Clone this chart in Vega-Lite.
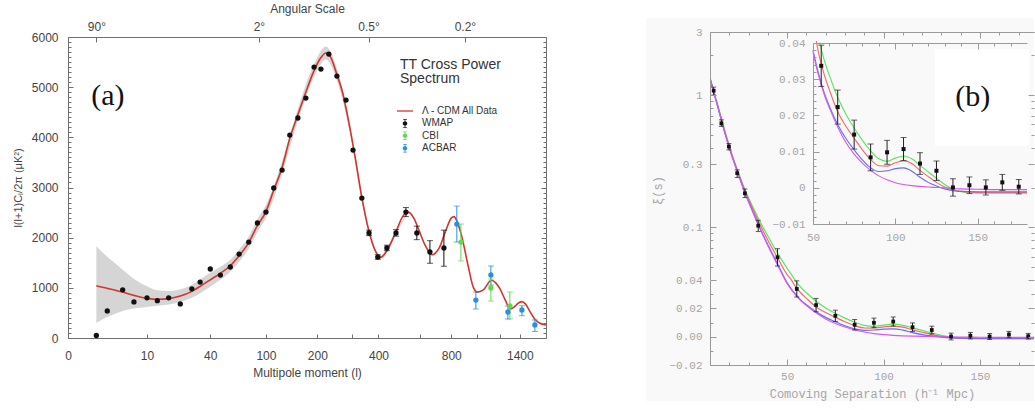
{
  "$schema": "https://vega.github.io/schema/vega-lite/v6.json",
  "autosize": {"type": "pad"},
  "padding": {"left": 12, "top": 2, "right": 0, "bottom": 4},
  "background": "white",
  "bounds": "flush",
  "spacing": 164,
  "resolve": {"scale": {"color": "independent", "shape": "independent"}, "legend": {"color": "independent", "shape": "independent"}},
  "config": {
    "view": {"stroke": null},
    "font": "Liberation Sans",
    "axis": {"grid": false, "titleFontWeight": "normal", "labelOverlap": false, "labelFlush": false}
  },
  "datasets": {
    "cl_curve": [
      {"l": 2, "v": 1040}, {"l": 3, "v": 990}, {"l": 4, "v": 950}, {"l": 5, "v": 915}, {"l": 7, "v": 850},
      {"l": 10, "v": 790}, {"l": 13, "v": 772}, {"l": 17, "v": 785}, {"l": 22, "v": 835}, {"l": 28, "v": 930},
      {"l": 34, "v": 1050}, {"l": 40, "v": 1160}, {"l": 48, "v": 1290}, {"l": 57, "v": 1440}, {"l": 66, "v": 1640},
      {"l": 77, "v": 1900}, {"l": 88, "v": 2240}, {"l": 100, "v": 2520}, {"l": 112, "v": 2950}, {"l": 126, "v": 3400},
      {"l": 140, "v": 3980}, {"l": 156, "v": 4450}, {"l": 173, "v": 4900}, {"l": 192, "v": 5330}, {"l": 210, "v": 5600},
      {"l": 222, "v": 5680}, {"l": 235, "v": 5600}, {"l": 253, "v": 5250}, {"l": 270, "v": 4900}, {"l": 290, "v": 4300},
      {"l": 310, "v": 3650}, {"l": 335, "v": 2800}, {"l": 362, "v": 2120}, {"l": 385, "v": 1760}, {"l": 410, "v": 1610},
      {"l": 436, "v": 1740}, {"l": 478, "v": 2120}, {"l": 510, "v": 2420}, {"l": 540, "v": 2510}, {"l": 570, "v": 2380},
      {"l": 600, "v": 2120}, {"l": 635, "v": 1830}, {"l": 675, "v": 1660}, {"l": 720, "v": 1800}, {"l": 760, "v": 2120},
      {"l": 800, "v": 2390}, {"l": 820, "v": 2420}, {"l": 845, "v": 2300}, {"l": 875, "v": 2040}, {"l": 925, "v": 1440},
      {"l": 965, "v": 1020}, {"l": 1000, "v": 915}, {"l": 1050, "v": 960}, {"l": 1120, "v": 1150}, {"l": 1160, "v": 1100},
      {"l": 1200, "v": 980}, {"l": 1250, "v": 760}, {"l": 1300, "v": 580}, {"l": 1340, "v": 615}, {"l": 1380, "v": 690},
      {"l": 1420, "v": 725}, {"l": 1460, "v": 680}, {"l": 1500, "v": 560}, {"l": 1565, "v": 380}, {"l": 1620, "v": 300},
      {"l": 1700, "v": 260}
    ],
    "cl_band": [
      {"l": 2, "lo": 300, "hi": 1830}, {"l": 3, "lo": 420, "hi": 1620}, {"l": 4, "lo": 490, "hi": 1480},
      {"l": 5, "lo": 540, "hi": 1360}, {"l": 7, "lo": 590, "hi": 1180}, {"l": 10, "lo": 620, "hi": 1030},
      {"l": 13, "lo": 645, "hi": 950}, {"l": 17, "lo": 670, "hi": 935}, {"l": 22, "lo": 720, "hi": 970},
      {"l": 28, "lo": 800, "hi": 1060}, {"l": 34, "lo": 910, "hi": 1190}, {"l": 40, "lo": 1020, "hi": 1300},
      {"l": 48, "lo": 1160, "hi": 1420}, {"l": 57, "lo": 1320, "hi": 1560}, {"l": 66, "lo": 1520, "hi": 1760},
      {"l": 77, "lo": 1780, "hi": 2020}, {"l": 88, "lo": 2110, "hi": 2370}, {"l": 100, "lo": 2390, "hi": 2650},
      {"l": 126, "lo": 3280, "hi": 3520}, {"l": 156, "lo": 4330, "hi": 4570}, {"l": 192, "lo": 5200, "hi": 5460},
      {"l": 222, "lo": 5550, "hi": 5810}, {"l": 253, "lo": 5130, "hi": 5370}, {"l": 290, "lo": 4200, "hi": 4400},
      {"l": 335, "lo": 2730, "hi": 2870}, {"l": 410, "lo": 1570, "hi": 1650}, {"l": 478, "lo": 2090, "hi": 2150},
      {"l": 540, "lo": 2495, "hi": 2525}
    ],
    "cl_points": [
      {"l": 2, "v": 50, "series": "WMAP"}, {"l": 3, "v": 540, "series": "WMAP"}, {"l": 5, "v": 960, "series": "WMAP"},
      {"l": 7, "v": 720, "series": "WMAP"}, {"l": 10, "v": 800, "series": "WMAP"}, {"l": 13, "v": 745, "series": "WMAP"},
      {"l": 17, "v": 800, "series": "WMAP"}, {"l": 22, "v": 680, "series": "WMAP"}, {"l": 28, "v": 980, "series": "WMAP"},
      {"l": 33, "v": 1115, "series": "WMAP"}, {"l": 40, "v": 1375, "series": "WMAP"}, {"l": 48, "v": 1255, "series": "WMAP"},
      {"l": 57, "v": 1415, "series": "WMAP"}, {"l": 66, "v": 1674, "series": "WMAP"}, {"l": 77, "v": 1913, "series": "WMAP"},
      {"l": 88, "v": 2292, "series": "WMAP"}, {"l": 100, "v": 2511, "series": "WMAP"}, {"l": 112, "v": 2990, "series": "WMAP"},
      {"l": 126, "v": 3348, "series": "WMAP"}, {"l": 140, "v": 4046, "series": "WMAP"}, {"l": 156, "v": 4385, "series": "WMAP"},
      {"l": 173, "v": 4783, "series": "WMAP"}, {"l": 192, "v": 5401, "series": "WMAP"}, {"l": 209, "v": 5361, "series": "WMAP"},
      {"l": 230, "v": 5660, "series": "WMAP"}, {"l": 253, "v": 5222, "series": "WMAP"}, {"l": 281, "v": 4743, "series": "WMAP"},
      {"l": 304, "v": 3747, "series": "WMAP"}, {"l": 335, "v": 2790, "series": "WMAP"},
      {"l": 362, "v": 2093, "lo": 2040, "hi": 2150, "series": "WMAP"},
      {"l": 397, "v": 1614, "lo": 1570, "hi": 1660, "series": "WMAP"},
      {"l": 436, "v": 1794, "lo": 1740, "hi": 1850, "series": "WMAP"},
      {"l": 478, "v": 2093, "lo": 2030, "hi": 2160, "series": "WMAP"},
      {"l": 527, "v": 2511, "lo": 2420, "hi": 2600, "series": "WMAP"},
      {"l": 585, "v": 2093, "lo": 1960, "hi": 2230, "series": "WMAP"},
      {"l": 661, "v": 1714, "lo": 1490, "hi": 1940, "series": "WMAP"},
      {"l": 750, "v": 1794, "lo": 1430, "hi": 2150, "series": "WMAP"},
      {"l": 840, "v": 2272, "lo": 1913, "hi": 2630, "series": "ACBAR"},
      {"l": 870, "v": 1913, "lo": 1535, "hi": 2272, "series": "CBI"},
      {"l": 987, "v": 757, "lo": 578, "hi": 917, "series": "ACBAR"},
      {"l": 1116, "v": 1256, "lo": 1056, "hi": 1435, "series": "ACBAR"},
      {"l": 1116, "v": 997, "lo": 737, "hi": 1176, "series": "CBI"},
      {"l": 1277, "v": 518, "lo": 379, "hi": 638, "series": "ACBAR"},
      {"l": 1297, "v": 638, "lo": 379, "hi": 917, "series": "CBI"},
      {"l": 1422, "v": 558, "lo": 444, "hi": 643, "series": "ACBAR"},
      {"l": 1567, "v": 260, "lo": 130, "hi": 360, "series": "ACBAR"}
    ],
    "xi_curves": [
      {"s": 10, "model": "Ωmh²=0.12", "xi": 1.36}, {"s": 12, "model": "Ωmh²=0.12", "xi": 1.06}, {"s": 14, "model": "Ωmh²=0.12", "xi": 0.84},
      {"s": 16, "model": "Ωmh²=0.12", "xi": 0.66}, {"s": 18, "model": "Ωmh²=0.12", "xi": 0.52}, {"s": 20, "model": "Ωmh²=0.12", "xi": 0.415},
      {"s": 22, "model": "Ωmh²=0.12", "xi": 0.335}, {"s": 25, "model": "Ωmh²=0.12", "xi": 0.255}, {"s": 28, "model": "Ωmh²=0.12", "xi": 0.195},
      {"s": 32, "model": "Ωmh²=0.12", "xi": 0.145}, {"s": 36, "model": "Ωmh²=0.12", "xi": 0.11}, {"s": 40, "model": "Ωmh²=0.12", "xi": 0.086},
      {"s": 45, "model": "Ωmh²=0.12", "xi": 0.064}, {"s": 50, "model": "Ωmh²=0.12", "xi": 0.049}, {"s": 52, "model": "Ωmh²=0.12", "xi": 0.0445},
      {"s": 54, "model": "Ωmh²=0.12", "xi": 0.0401}, {"s": 57, "model": "Ωmh²=0.12", "xi": 0.035}, {"s": 60, "model": "Ωmh²=0.12", "xi": 0.031},
      {"s": 65, "model": "Ωmh²=0.12", "xi": 0.025}, {"s": 70, "model": "Ωmh²=0.12", "xi": 0.0203}, {"s": 75, "model": "Ωmh²=0.12", "xi": 0.0165},
      {"s": 80, "model": "Ωmh²=0.12", "xi": 0.0131}, {"s": 85, "model": "Ωmh²=0.12", "xi": 0.0102}, {"s": 90, "model": "Ωmh²=0.12", "xi": 0.008},
      {"s": 95, "model": "Ωmh²=0.12", "xi": 0.0073}, {"s": 100, "model": "Ωmh²=0.12", "xi": 0.0082}, {"s": 105, "model": "Ωmh²=0.12", "xi": 0.0088},
      {"s": 110, "model": "Ωmh²=0.12", "xi": 0.008}, {"s": 115, "model": "Ωmh²=0.12", "xi": 0.0062}, {"s": 120, "model": "Ωmh²=0.12", "xi": 0.0044},
      {"s": 125, "model": "Ωmh²=0.12", "xi": 0.0026}, {"s": 130, "model": "Ωmh²=0.12", "xi": 0.0009}, {"s": 135, "model": "Ωmh²=0.12", "xi": -0.0004},
      {"s": 140, "model": "Ωmh²=0.12", "xi": -0.0011}, {"s": 150, "model": "Ωmh²=0.12", "xi": -0.0015}, {"s": 160, "model": "Ωmh²=0.12", "xi": -0.0015},
      {"s": 170, "model": "Ωmh²=0.12", "xi": -0.0015}, {"s": 180, "model": "Ωmh²=0.12", "xi": -0.0015},

      {"s": 10, "model": "Ωmh²=0.13", "xi": 1.35}, {"s": 12, "model": "Ωmh²=0.13", "xi": 1.05}, {"s": 14, "model": "Ωmh²=0.13", "xi": 0.83},
      {"s": 16, "model": "Ωmh²=0.13", "xi": 0.65}, {"s": 18, "model": "Ωmh²=0.13", "xi": 0.51}, {"s": 20, "model": "Ωmh²=0.13", "xi": 0.41},
      {"s": 22, "model": "Ωmh²=0.13", "xi": 0.33}, {"s": 25, "model": "Ωmh²=0.13", "xi": 0.25}, {"s": 28, "model": "Ωmh²=0.13", "xi": 0.19},
      {"s": 32, "model": "Ωmh²=0.13", "xi": 0.14}, {"s": 36, "model": "Ωmh²=0.13", "xi": 0.104}, {"s": 40, "model": "Ωmh²=0.13", "xi": 0.08},
      {"s": 45, "model": "Ωmh²=0.13", "xi": 0.059}, {"s": 50, "model": "Ωmh²=0.13", "xi": 0.044}, {"s": 52, "model": "Ωmh²=0.13", "xi": 0.0405},
      {"s": 54, "model": "Ωmh²=0.13", "xi": 0.036}, {"s": 57, "model": "Ωmh²=0.13", "xi": 0.031}, {"s": 60, "model": "Ωmh²=0.13", "xi": 0.027},
      {"s": 65, "model": "Ωmh²=0.13", "xi": 0.021}, {"s": 70, "model": "Ωmh²=0.13", "xi": 0.017}, {"s": 75, "model": "Ωmh²=0.13", "xi": 0.0137},
      {"s": 80, "model": "Ωmh²=0.13", "xi": 0.0105}, {"s": 85, "model": "Ωmh²=0.13", "xi": 0.0078}, {"s": 90, "model": "Ωmh²=0.13", "xi": 0.0061},
      {"s": 95, "model": "Ωmh²=0.13", "xi": 0.006}, {"s": 100, "model": "Ωmh²=0.13", "xi": 0.0069}, {"s": 105, "model": "Ωmh²=0.13", "xi": 0.0075},
      {"s": 110, "model": "Ωmh²=0.13", "xi": 0.0067}, {"s": 115, "model": "Ωmh²=0.13", "xi": 0.0048}, {"s": 120, "model": "Ωmh²=0.13", "xi": 0.0031},
      {"s": 125, "model": "Ωmh²=0.13", "xi": 0.0015}, {"s": 130, "model": "Ωmh²=0.13", "xi": 0.0002}, {"s": 135, "model": "Ωmh²=0.13", "xi": -0.0006},
      {"s": 140, "model": "Ωmh²=0.13", "xi": -0.001}, {"s": 150, "model": "Ωmh²=0.13", "xi": -0.0013}, {"s": 160, "model": "Ωmh²=0.13", "xi": -0.0013},
      {"s": 170, "model": "Ωmh²=0.13", "xi": -0.0013}, {"s": 180, "model": "Ωmh²=0.13", "xi": -0.0013},

      {"s": 10, "model": "Ωmh²=0.14", "xi": 1.34}, {"s": 12, "model": "Ωmh²=0.14", "xi": 1.04}, {"s": 14, "model": "Ωmh²=0.14", "xi": 0.82},
      {"s": 16, "model": "Ωmh²=0.14", "xi": 0.64}, {"s": 18, "model": "Ωmh²=0.14", "xi": 0.5}, {"s": 20, "model": "Ωmh²=0.14", "xi": 0.4},
      {"s": 22, "model": "Ωmh²=0.14", "xi": 0.325}, {"s": 25, "model": "Ωmh²=0.14", "xi": 0.245}, {"s": 28, "model": "Ωmh²=0.14", "xi": 0.185},
      {"s": 32, "model": "Ωmh²=0.14", "xi": 0.134}, {"s": 36, "model": "Ωmh²=0.14", "xi": 0.098}, {"s": 40, "model": "Ωmh²=0.14", "xi": 0.074},
      {"s": 45, "model": "Ωmh²=0.14", "xi": 0.053}, {"s": 50, "model": "Ωmh²=0.14", "xi": 0.038}, {"s": 52, "model": "Ωmh²=0.14", "xi": 0.034},
      {"s": 54, "model": "Ωmh²=0.14", "xi": 0.0305}, {"s": 57, "model": "Ωmh²=0.14", "xi": 0.026}, {"s": 60, "model": "Ωmh²=0.14", "xi": 0.0225},
      {"s": 65, "model": "Ωmh²=0.14", "xi": 0.0175}, {"s": 70, "model": "Ωmh²=0.14", "xi": 0.0136}, {"s": 75, "model": "Ωmh²=0.14", "xi": 0.0105},
      {"s": 80, "model": "Ωmh²=0.14", "xi": 0.0077}, {"s": 85, "model": "Ωmh²=0.14", "xi": 0.0055}, {"s": 90, "model": "Ωmh²=0.14", "xi": 0.0045},
      {"s": 95, "model": "Ωmh²=0.14", "xi": 0.0047}, {"s": 100, "model": "Ωmh²=0.14", "xi": 0.0053}, {"s": 105, "model": "Ωmh²=0.14", "xi": 0.0055},
      {"s": 110, "model": "Ωmh²=0.14", "xi": 0.0046}, {"s": 115, "model": "Ωmh²=0.14", "xi": 0.0029}, {"s": 120, "model": "Ωmh²=0.14", "xi": 0.0015},
      {"s": 125, "model": "Ωmh²=0.14", "xi": 0.0005}, {"s": 130, "model": "Ωmh²=0.14", "xi": -0.0003}, {"s": 135, "model": "Ωmh²=0.14", "xi": -0.0008},
      {"s": 140, "model": "Ωmh²=0.14", "xi": -0.001}, {"s": 150, "model": "Ωmh²=0.14", "xi": -0.0011}, {"s": 160, "model": "Ωmh²=0.14", "xi": -0.0011},
      {"s": 170, "model": "Ωmh²=0.14", "xi": -0.0011}, {"s": 180, "model": "Ωmh²=0.14", "xi": -0.0011},

      {"s": 10, "model": "Ωb=0", "xi": 1.34}, {"s": 12, "model": "Ωb=0", "xi": 1.04}, {"s": 14, "model": "Ωb=0", "xi": 0.82},
      {"s": 16, "model": "Ωb=0", "xi": 0.64}, {"s": 18, "model": "Ωb=0", "xi": 0.5}, {"s": 20, "model": "Ωb=0", "xi": 0.4},
      {"s": 22, "model": "Ωb=0", "xi": 0.325}, {"s": 25, "model": "Ωb=0", "xi": 0.245}, {"s": 28, "model": "Ωb=0", "xi": 0.184},
      {"s": 32, "model": "Ωb=0", "xi": 0.133}, {"s": 36, "model": "Ωb=0", "xi": 0.097}, {"s": 40, "model": "Ωb=0", "xi": 0.073},
      {"s": 45, "model": "Ωb=0", "xi": 0.052}, {"s": 50, "model": "Ωb=0", "xi": 0.0375}, {"s": 52, "model": "Ωb=0", "xi": 0.0335},
      {"s": 54, "model": "Ωb=0", "xi": 0.03}, {"s": 57, "model": "Ωb=0", "xi": 0.0255}, {"s": 60, "model": "Ωb=0", "xi": 0.022},
      {"s": 65, "model": "Ωb=0", "xi": 0.0168}, {"s": 70, "model": "Ωb=0", "xi": 0.0125}, {"s": 75, "model": "Ωb=0", "xi": 0.0093},
      {"s": 80, "model": "Ωb=0", "xi": 0.0068}, {"s": 85, "model": "Ωb=0", "xi": 0.0048}, {"s": 90, "model": "Ωb=0", "xi": 0.0033},
      {"s": 95, "model": "Ωb=0", "xi": 0.0022}, {"s": 100, "model": "Ωb=0", "xi": 0.0014}, {"s": 105, "model": "Ωb=0", "xi": 0.0009},
      {"s": 110, "model": "Ωb=0", "xi": 0.0006}, {"s": 115, "model": "Ωb=0", "xi": 0.0004}, {"s": 120, "model": "Ωb=0", "xi": 0.0002},
      {"s": 125, "model": "Ωb=0", "xi": 0.0001}, {"s": 130, "model": "Ωb=0", "xi": 0}, {"s": 135, "model": "Ωb=0", "xi": -0.0002},
      {"s": 140, "model": "Ωb=0", "xi": -0.0003}, {"s": 150, "model": "Ωb=0", "xi": -0.0004}, {"s": 160, "model": "Ωb=0", "xi": -0.0005},
      {"s": 170, "model": "Ωb=0", "xi": -0.0005}, {"s": 180, "model": "Ωb=0", "xi": -0.0005}
    ],
    "xi_points": [
      {"s": 11.9, "xi": 1.08, "lo": 1.0, "hi": 1.15}, {"s": 15.9, "xi": 0.612, "lo": 0.58, "hi": 0.65},
      {"s": 19.8, "xi": 0.408, "lo": 0.385, "hi": 0.43}, {"s": 24.1, "xi": 0.257, "lo": 0.238, "hi": 0.272},
      {"s": 28.1, "xi": 0.181, "lo": 0.168, "hi": 0.195}, {"s": 35, "xi": 0.103, "lo": 0.093, "hi": 0.113},
      {"s": 45, "xi": 0.0594, "lo": 0.051, "hi": 0.069}, {"s": 55, "xi": 0.0337, "lo": 0.028, "hi": 0.0394},
      {"s": 65, "xi": 0.0223, "lo": 0.0176, "hi": 0.027}, {"s": 75, "xi": 0.0147, "lo": 0.0107, "hi": 0.0187},
      {"s": 85, "xi": 0.0084, "lo": 0.0047, "hi": 0.0121}, {"s": 95, "xi": 0.0098, "lo": 0.0065, "hi": 0.0131},
      {"s": 105, "xi": 0.0107, "lo": 0.0075, "hi": 0.0139}, {"s": 115, "xi": 0.0067, "lo": 0.0037, "hi": 0.0097},
      {"s": 125, "xi": 0.0047, "lo": 0.002, "hi": 0.0074}, {"s": 135, "xi": 0.0001, "lo": -0.0023, "hi": 0.0025},
      {"s": 145, "xi": 0.0007, "lo": -0.0016, "hi": 0.003}, {"s": 155, "xi": 0.0001, "lo": -0.002, "hi": 0.0022},
      {"s": 165, "xi": 0.0015, "lo": -0.0007, "hi": 0.0037}, {"s": 175, "xi": 0.0003, "lo": -0.0017, "hi": 0.0023}
    ]
  },
  "hconcat": [
    {
      "width": 478,
      "height": 306,
      "resolve": {"axis": {"x": "independent", "y": "independent"}},
      "layer": [
        {
          "data": {"values": [{"series": "Λ - CDM All Data"}, {"series": "WMAP"}, {"series": "CBI"}, {"series": "ACBAR"}]},
          "mark": {"type": "point", "filled": true, "opacity": 1, "clip": true},
          "encoding": {
            "x": {"datum": 5000, "type": "quantitative",
              "scale": {"type": "pow", "exponent": 0.25, "domain": [0.545, 1700], "nice": false, "zero": false}, "axis": null},
            "y": {"datum": 3000, "type": "quantitative", "scale": {"domain": [0, 6000], "range": [306, 5], "nice": false, "zero": false}, "axis": null},
            "color": {"field": "series", "type": "nominal",
              "scale": {"domain": ["Λ - CDM All Data", "WMAP", "CBI", "ACBAR"], "range": ["#d2352c", "#111111", "#5fd94f", "#2b8fdd"]},
              "legend": {"orient": "none", "legendX": 332, "legendY": 26, "title": ["TT Cross Power", "Spectrum"],
                "titleFont": "Liberation Sans", "titleFontSize": 14, "titleFontWeight": "normal", "titleColor": "#333", "titleLineHeight": 14,
                "titlePadding": 20, "labelFont": "Liberation Sans", "labelFontSize": 10, "labelColor": "#333",
                "symbolSize": 100, "rowPadding": 2.4, "labelOffset": 12, "padding": 0, "symbolStrokeWidth": 0}},
            "shape": {"field": "series", "type": "nominal",
              "scale": {"domain": ["Λ - CDM All Data", "WMAP", "CBI", "ACBAR"],
                "range": ["M-1.6,-0.13H1.6V0.13H-1.6Z",
                  "M-0.08,-0.85H0.08V0.85H-0.08Z M-0.35,-0.85H0.35V-0.7H-0.35Z M-0.35,0.7H0.35V0.85H-0.35Z M-0.45,0A0.45,0.45 0 1,1 0.45,0A0.45,0.45 0 1,1 -0.45,0Z",
                  "M-0.08,-0.85H0.08V0.85H-0.08Z M-0.35,-0.85H0.35V-0.7H-0.35Z M-0.35,0.7H0.35V0.85H-0.35Z M-0.45,0A0.45,0.45 0 1,1 0.45,0A0.45,0.45 0 1,1 -0.45,0Z",
                  "M-0.08,-0.85H0.08V0.85H-0.08Z M-0.35,-0.85H0.35V-0.7H-0.35Z M-0.35,0.7H0.35V0.85H-0.35Z M-0.45,0A0.45,0.45 0 1,1 0.45,0A0.45,0.45 0 1,1 -0.45,0Z"]},
              "legend": {"orient": "none", "legendX": 332, "legendY": 26, "title": ["TT Cross Power", "Spectrum"]}}
          }
        },
        {
          "data": {"name": "cl_band"},
          "mark": {"type": "area", "color": "#d5d5d5", "interpolate": "monotone"},
          "encoding": {
            "x": {"field": "l", "type": "quantitative",
              "scale": {"type": "pow", "exponent": 0.25, "domain": [0.545, 1700], "nice": false, "zero": false},
              "axis": {"orient": "bottom", "values": [0.545, 10, 40, 100, 200, 300, 400, 600, 800, 1000, 1200, 1400],
                "labelExpr": "datum.value < 1 ? '0' : (datum.value == 300 || datum.value == 600 || datum.value == 1000 || datum.value == 1200) ? '' : format(datum.value, 'd')",
                "tickSize": -4, "labelPadding": 16, "labelFont": "Liberation Sans", "labelFontSize": 12, "labelColor": "#444",
                "domainColor": "#707070", "tickColor": "#707070",
                "title": "Multipole moment (l)", "titleFont": "Liberation Sans", "titleFontSize": 12, "titleColor": "#444", "titlePadding": 6}},
            "y": {"field": "lo", "type": "quantitative",
              "scale": {"domain": [0, 6000], "range": [306, 5], "nice": false, "zero": false},
              "axis": {"orient": "left",
                "values": [0,100,200,300,400,500,600,700,800,900,1000,1100,1200,1300,1400,1500,1600,1700,1800,1900,2000,2100,2200,2300,2400,2500,2600,2700,2800,2900,3000,3100,3200,3300,3400,3500,3600,3700,3800,3900,4000,4100,4200,4300,4400,4500,4600,4700,4800,4900,5000,5100,5200,5300,5400,5500,5600,5700,5800,5900,6000],
                "labelExpr": "datum.value % 1000 == 0 ? format(datum.value, 'd') : ''",
                "tickSize": {"condition": {"test": "datum.value % 1000 == 0", "value": -5}, "value": -3},
                "labelPadding": 15, "labelFont": "Liberation Sans", "labelFontSize": 12, "labelColor": "#444",
                "domainColor": "#707070", "tickColor": "#707070",
                "title": "l(l+1)Cₗ/2π (μK²)", "titleFont": "Liberation Sans", "titleFontSize": 11, "titleColor": "#444", "titlePadding": 8}},
            "y2": {"field": "hi"}
          }
        },
        {
          "data": {"name": "cl_curve"},
          "mark": {"type": "line", "color": "#d2352c", "strokeWidth": 1.6, "interpolate": "monotone"},
          "encoding": {
            "x": {"field": "l", "type": "quantitative",
              "scale": {"type": "pow", "exponent": 0.25, "domain": [0.545, 1700], "nice": false, "zero": false},
              "axis": {"orient": "top", "offset": -5, "values": [2, 90, 360, 900],
                "labelExpr": "datum.value == 2 ? '90°' : datum.value == 90 ? '2°' : datum.value == 360 ? '0.5°' : '0.2°'",
                "tickSize": -5, "labelPadding": 9, "labelFont": "Liberation Sans", "labelFontSize": 12, "labelColor": "#444",
                "domainColor": "#707070", "tickColor": "#707070",
                "title": "Angular Scale", "titleFont": "Liberation Sans", "titleFontSize": 12, "titleColor": "#444", "titlePadding": 5}},
            "y": {"field": "v", "type": "quantitative",
              "scale": {"domain": [0, 6000], "range": [306, 5], "nice": false, "zero": false},
              "axis": {"orient": "right",
                "values": [0,100,200,300,400,500,600,700,800,900,1000,1100,1200,1300,1400,1500,1600,1700,1800,1900,2000,2100,2200,2300,2400,2500,2600,2700,2800,2900,3000,3100,3200,3300,3400,3500,3600,3700,3800,3900,4000,4100,4200,4300,4400,4500,4600,4700,4800,4900,5000,5100,5200,5300,5400,5500,5600,5700,5800,5900,6000],
                "labels": false,
                "tickSize": {"condition": {"test": "datum.value % 1000 == 0", "value": -5}, "value": -3},
                "domainColor": "#707070", "tickColor": "#707070", "title": null}}
          }
        },
        {
          "data": {"name": "cl_points"},
          "transform": [{"filter": "isValid(datum.lo)"}],
          "mark": {"type": "errorbar", "ticks": {"size": 6}, "thickness": 1},
          "encoding": {
            "x": {"field": "l", "type": "quantitative",
              "scale": {"type": "pow", "exponent": 0.25, "domain": [0.545, 1700], "nice": false, "zero": false}, "axis": null},
            "y": {"field": "lo", "type": "quantitative", "scale": {"domain": [0, 6000], "range": [306, 5], "nice": false, "zero": false}, "axis": null, "title": null},
            "y2": {"field": "hi"},
            "color": {"field": "series", "type": "nominal",
              "scale": {"domain": ["Λ - CDM All Data", "WMAP", "CBI", "ACBAR"], "range": ["#d2352c", "#111111", "#5fd94f", "#2b8fdd"]}}
          }
        },
        {
          "data": {"name": "cl_points"},
          "mark": {"type": "circle", "size": 28, "opacity": 1},
          "encoding": {
            "x": {"field": "l", "type": "quantitative",
              "scale": {"type": "pow", "exponent": 0.25, "domain": [0.545, 1700], "nice": false, "zero": false}, "axis": null},
            "y": {"field": "v", "type": "quantitative", "scale": {"domain": [0, 6000], "range": [306, 5], "nice": false, "zero": false}, "axis": null},
            "color": {"field": "series", "type": "nominal",
              "scale": {"domain": ["Λ - CDM All Data", "WMAP", "CBI", "ACBAR"], "range": ["#d2352c", "#111111", "#5fd94f", "#2b8fdd"]}}
          }
        },
        {
          "data": {"values": [{"label": "(a)"}]},
          "mark": {"type": "text", "font": "Liberation Serif", "fontSize": 30, "color": "#111", "align": "center", "baseline": "middle"},
          "encoding": {
            "text": {"field": "label"},
            "x": {"datum": 3.07, "type": "quantitative",
              "scale": {"type": "pow", "exponent": 0.25, "domain": [0.545, 1700], "nice": false, "zero": false}, "axis": null},
            "y": {"datum": 4823, "type": "quantitative", "scale": {"domain": [0, 6000], "range": [306, 5], "nice": false, "zero": false}, "axis": null}
          }
        }
      ]
    },
    {
      "vconcat": [
        {
          "width": 324,
          "height": 248,
          "resolve": {"scale": {"x": "independent", "y": "independent"}, "axis": {"x": "independent", "y": "independent"}},
          "layer": [
            {
              "resolve": {"axis": {"x": "independent", "y": "independent"}},
              "layer": [
                {
                  "data": {"values": [{"bg": "panel"}]},
                  "mark": {"type": "rect", "color": "#f9f9f9", "opacity": 1},
                  "encoding": {
                    "x": {"datum": -23.2, "type": "quantitative", "scale": {"domain": [10, 178], "nice": false, "zero": false}, "axis": null},
                    "x2": {"datum": 178},
                    "y": {"datum": 3.83, "type": "quantitative", "scale": {"type": "log", "domain": [0.04, 3], "nice": false}, "axis": null},
                    "y2": {"datum": 0.04}
                  }
                },
                {
                  "data": {"name": "xi_curves"},
                  "transform": [{"filter": "datum.xi > 0.03"}],
                  "mark": {"type": "line", "strokeWidth": 1.2, "interpolate": "monotone", "clip": true},
                  "encoding": {
                    "x": {"field": "s", "type": "quantitative", "scale": {"domain": [10, 178], "nice": false, "zero": false},
                      "axis": {"orient": "top", "zindex": 1, "values": [10,20,30,40,50,60,70,80,90,100,110,120,130,140,150,160,170], "labels": false,
                        "tickSize": {"condition": {"test": "datum.value % 50 == 0", "value": -6}, "value": -3},
                        "domainColor": "#9a9a9a", "tickColor": "#9a9a9a", "title": null}},
                    "y": {"field": "xi", "type": "quantitative", "scale": {"type": "log", "domain": [0.04, 3], "nice": false},
                      "axis": {"orient": "left", "zindex": 1, "values": [3, 2, 1, 0.9, 0.8, 0.7, 0.6, 0.5, 0.4, 0.3, 0.2, 0.1, 0.09, 0.08, 0.07, 0.06, 0.05],
                        "labelExpr": "datum.value == 3 ? '3' : datum.value == 1 ? '1' : datum.value == 0.3 ? '0.3' : datum.value == 0.1 ? '0.1' : ''",
                        "tickSize": {"condition": {"test": "datum.value == 3 || datum.value == 1 || datum.value == 0.3 || datum.value == 0.1", "value": -6}, "value": -3},
                        "labelPadding": 14, "labelFont": "Liberation Mono", "labelFontSize": 11, "labelColor": "#a6a6a6",
                        "domainColor": "#9a9a9a", "tickColor": "#9a9a9a",
                        "title": "ξ(s)", "titleFont": "Liberation Mono", "titleFontSize": 12, "titleColor": "#a6a6a6",
                        "titleX": -53, "titleY": 158, "titleAngle": 270, "titleAlign": "center", "titleBaseline": "middle"}},
                    "color": {"field": "model", "type": "nominal",
                      "scale": {"domain": ["Ωmh²=0.12", "Ωmh²=0.13", "Ωmh²=0.14", "Ωb=0"], "range": ["#5ee35e", "#f06a6a", "#6a6af5", "#d45ae8"]},
                      "legend": null}
                  }
                },
                {
                  "data": {"name": "xi_points"},
                  "transform": [{"filter": "datum.s < 50"}],
                  "mark": {"type": "errorbar", "ticks": {"size": 5}, "thickness": 1, "color": "#222", "clip": true},
                  "encoding": {
                    "x": {"field": "s", "type": "quantitative", "scale": {"domain": [10, 178], "nice": false, "zero": false}, "axis": null},
                    "y": {"field": "lo", "type": "quantitative", "scale": {"type": "log", "domain": [0.04, 3], "nice": false}, "axis": null, "title": null},
                    "y2": {"field": "hi"}
                  }
                },
                {
                  "data": {"name": "xi_points"},
                  "transform": [{"filter": "datum.s < 50"}],
                  "mark": {"type": "square", "size": 14, "opacity": 1, "color": "#111", "clip": true},
                  "encoding": {
                    "x": {"field": "s", "type": "quantitative", "scale": {"domain": [10, 178], "nice": false, "zero": false}, "axis": null},
                    "y": {"field": "xi", "type": "quantitative", "scale": {"type": "log", "domain": [0.04, 3], "nice": false},
                      "axis": {"orient": "right", "zindex": 1, "values": [3, 2, 1, 0.9, 0.8, 0.7, 0.6, 0.5, 0.4, 0.3, 0.2, 0.1, 0.09, 0.08, 0.07, 0.06, 0.05],
                        "labels": false, "domain": false,
                        "tickSize": {"condition": {"test": "datum.value == 3 || datum.value == 1 || datum.value == 0.3 || datum.value == 0.1", "value": -6}, "value": -3},
                        "tickColor": "#9a9a9a", "title": null}}
                  }
                }
              ]
            },
            {
              "resolve": {"axis": {"x": "independent", "y": "independent"}},
              "layer": [
                {
                  "data": {"name": "xi_curves"},
                  "transform": [{"filter": "datum.s >= 50 && datum.xi <= 0.041"}],
                  "mark": {"type": "line", "strokeWidth": 1.1, "interpolate": "monotone"},
                  "encoding": {
                    "x": {"field": "s", "type": "quantitative", "scale": {"domain": [50, 180], "range": [103, 317], "nice": false, "zero": false},
                      "axis": {"orient": "bottom", "zindex": 1, "offset": -56, "values": [50,60,70,80,90,100,110,120,130,140,150,160,170],
                        "labelExpr": "datum.value % 50 == 0 ? format(datum.value, 'd') : ''",
                        "tickSize": {"condition": {"test": "datum.value % 50 == 0", "value": -6}, "value": -3},
                        "labelPadding": 13, "labelFont": "Liberation Mono", "labelFontSize": 11, "labelColor": "#a6a6a6",
                        "domainColor": "#9a9a9a", "tickColor": "#9a9a9a", "title": null}},
                    "y": {"field": "xi", "type": "quantitative", "scale": {"domain": [-0.01, 0.04], "range": [192, 11], "nice": false, "zero": false},
                      "axis": {"orient": "left", "zindex": 1, "offset": -103,
                        "values": [-0.01,-0.008,-0.006,-0.004,-0.002,0,0.002,0.004,0.006,0.008,0.01,0.012,0.014,0.016,0.018,0.02,0.022,0.024,0.026,0.028,0.03,0.032,0.034,0.036,0.038,0.04],
                        "labelExpr": "abs(datum.value * 100 - round(datum.value * 100)) < 0.001 ? (abs(datum.value) < 0.000001 ? '0' : format(datum.value, '.2f')) : ''",
                        "tickSize": {"condition": {"test": "abs(datum.value * 100 - round(datum.value * 100)) < 0.001", "value": -6}, "value": -3},
                        "labelPadding": 14, "labelFont": "Liberation Mono", "labelFontSize": 11, "labelColor": "#a6a6a6",
                        "domainColor": "#9a9a9a", "tickColor": "#9a9a9a", "title": null}},
                    "color": {"field": "model", "type": "nominal",
                      "scale": {"domain": ["Ωmh²=0.12", "Ωmh²=0.13", "Ωmh²=0.14", "Ωb=0"], "range": ["#5ee35e", "#f06a6a", "#6a6af5", "#d45ae8"]},
                      "legend": null}
                  }
                },
                {
                  "data": {"name": "xi_points"},
                  "transform": [{"filter": "datum.s >= 50"}],
                  "mark": {"type": "errorbar", "ticks": {"size": 6}, "thickness": 1, "color": "#222"},
                  "encoding": {
                    "x": {"field": "s", "type": "quantitative", "scale": {"domain": [50, 180], "range": [103, 317], "nice": false, "zero": false}, "axis": null},
                    "y": {"field": "lo", "type": "quantitative", "scale": {"domain": [-0.01, 0.04], "range": [192, 11], "nice": false, "zero": false}, "axis": null, "title": null},
                    "y2": {"field": "hi"}
                  }
                },
                {
                  "data": {"name": "xi_points"},
                  "transform": [{"filter": "datum.s >= 50"}],
                  "mark": {"type": "square", "size": 16, "opacity": 1, "color": "#111"},
                  "encoding": {
                    "x": {"field": "s", "type": "quantitative", "scale": {"domain": [50, 180], "range": [103, 317], "nice": false, "zero": false},
                      "axis": {"orient": "top", "zindex": 1, "offset": -11, "values": [50,60,70,80,90,100,110,120,130,140,150,160,170], "labels": false,
                        "tickSize": {"condition": {"test": "datum.value % 50 == 0", "value": -6}, "value": -3},
                        "domainColor": "#9a9a9a", "tickColor": "#9a9a9a", "title": null}},
                    "y": {"field": "xi", "type": "quantitative", "scale": {"domain": [-0.01, 0.04], "range": [192, 11], "nice": false, "zero": false},
                      "axis": {"orient": "right", "zindex": 0, "offset": -7,
                        "values": [-0.01,-0.008,-0.006,-0.004,-0.002,0,0.002,0.004,0.006,0.008,0.01,0.012,0.014,0.016,0.018,0.02,0.022,0.024,0.026,0.028,0.03,0.032,0.034,0.036,0.038,0.04],
                        "labels": false,
                        "tickSize": {"condition": {"test": "abs(datum.value * 100 - round(datum.value * 100)) < 0.001", "value": -6}, "value": -3},
                        "domainColor": "#9a9a9a", "tickColor": "#9a9a9a", "title": null}}
                  }
                },
                {
                  "data": {"values": [{"x1": 124, "x2": 181.5, "y1": 0.0383, "y2": 0.0115}]},
                  "mark": {"type": "rect", "color": "white", "opacity": 1},
                  "encoding": {
                    "x": {"field": "x1", "type": "quantitative", "scale": {"domain": [50, 180], "range": [103, 317], "nice": false, "zero": false}, "axis": null},
                    "x2": {"field": "x2"},
                    "y": {"field": "y1", "type": "quantitative", "scale": {"domain": [-0.01, 0.04], "range": [192, 11], "nice": false, "zero": false}, "axis": null},
                    "y2": {"field": "y2"}
                  }
                },
                {
                  "data": {"values": [{"label": "(b)", "x": 147, "y": 0.0251}]},
                  "mark": {"type": "text", "font": "Liberation Serif", "fontSize": 30, "color": "#111", "align": "center", "baseline": "middle"},
                  "encoding": {
                    "text": {"field": "label"},
                    "x": {"field": "x", "type": "quantitative", "scale": {"domain": [50, 180], "range": [103, 317], "nice": false, "zero": false}, "axis": null},
                    "y": {"field": "y", "type": "quantitative", "scale": {"domain": [-0.01, 0.04], "range": [192, 11], "nice": false, "zero": false}, "axis": null}
                  }
                }
              ]
            }
          ]
        },
        {
          "width": 324,
          "height": 85,
          "resolve": {"axis": {"x": "independent", "y": "independent"}},
          "layer": [
            {
              "data": {"values": [{"bg": "panel"}]},
              "mark": {"type": "rect", "color": "#f9f9f9", "opacity": 1},
              "encoding": {
                "x": {"datum": -23.2, "type": "quantitative", "scale": {"domain": [10, 178], "nice": false, "zero": false}, "axis": null},
                "x2": {"datum": 178},
                "y": {"datum": 0.04, "type": "quantitative", "scale": {"domain": [-0.02, 0.04], "nice": false, "zero": false}, "axis": null},
                "y2": {"datum": -0.0454}
              }
            },
            {
              "data": {"name": "xi_curves"},
              "transform": [{"filter": "datum.s >= 36"}],
              "mark": {"type": "line", "strokeWidth": 1.2, "interpolate": "monotone", "clip": true},
              "encoding": {
                "x": {"field": "s", "type": "quantitative", "scale": {"domain": [10, 178], "nice": false, "zero": false},
                  "axis": {"orient": "bottom", "zindex": 1, "values": [10,20,30,40,50,60,70,80,90,100,110,120,130,140,150,160,170],
                    "labelExpr": "datum.value % 50 == 0 ? format(datum.value, 'd') : ''",
                    "tickSize": {"condition": {"test": "datum.value % 50 == 0", "value": -6}, "value": -3},
                    "labelPadding": 11, "labelFont": "Liberation Mono", "labelFontSize": 11, "labelColor": "#a6a6a6",
                    "domainColor": "#9a9a9a", "tickColor": "#9a9a9a",
                    "title": "Comoving Separation (h⁻¹ Mpc)", "titleFont": "Liberation Mono", "titleFontSize": 12, "titleColor": "#a6a6a6", "titlePadding": 4}},
                "y": {"field": "xi", "type": "quantitative", "scale": {"domain": [-0.02, 0.04], "nice": false, "zero": false},
                  "axis": {"orient": "left", "zindex": 1, "values": [-0.02, -0.01, 0, 0.01, 0.02, 0.03, 0.04],
                    "labelExpr": "abs(datum.value * 50 - round(datum.value * 50)) < 0.001 ? format(datum.value, '.2f') : ''",
                    "tickSize": {"condition": {"test": "abs(datum.value * 50 - round(datum.value * 50)) < 0.001", "value": -6}, "value": -3},
                    "labelPadding": 14, "labelFont": "Liberation Mono", "labelFontSize": 11, "labelColor": "#a6a6a6",
                    "domainColor": "#9a9a9a", "tickColor": "#9a9a9a", "title": null}},
                "color": {"field": "model", "type": "nominal",
                  "scale": {"domain": ["Ωmh²=0.12", "Ωmh²=0.13", "Ωmh²=0.14", "Ωb=0"], "range": ["#5ee35e", "#f06a6a", "#6a6af5", "#d45ae8"]},
                  "legend": null}
              }
            },
            {
              "data": {"name": "xi_points"},
              "transform": [{"filter": "datum.s > 40"}],
              "mark": {"type": "errorbar", "ticks": {"size": 5}, "thickness": 1, "color": "#222", "clip": true},
              "encoding": {
                "x": {"field": "s", "type": "quantitative", "scale": {"domain": [10, 178], "nice": false, "zero": false}, "axis": null},
                "y": {"field": "lo", "type": "quantitative", "scale": {"domain": [-0.02, 0.04], "nice": false, "zero": false}, "axis": null, "title": null},
                "y2": {"field": "hi"}
              }
            },
            {
              "data": {"name": "xi_points"},
              "transform": [{"filter": "datum.s > 40"}],
              "mark": {"type": "square", "size": 14, "opacity": 1, "color": "#111", "clip": true},
              "encoding": {
                "x": {"field": "s", "type": "quantitative", "scale": {"domain": [10, 178], "nice": false, "zero": false}, "axis": null},
                "y": {"field": "xi", "type": "quantitative", "scale": {"domain": [-0.02, 0.04], "nice": false, "zero": false},
                  "axis": {"orient": "right", "zindex": 1, "values": [-0.02, -0.01, 0, 0.01, 0.02, 0.03, 0.04], "labels": false, "domain": false,
                    "tickSize": {"condition": {"test": "abs(datum.value * 50 - round(datum.value * 50)) < 0.001", "value": -6}, "value": -3},
                    "tickColor": "#9a9a9a", "title": null}}
              }
            }
          ]
        }
      ],
      "spacing": 0,
      "bounds": "flush"
    }
  ]
}
